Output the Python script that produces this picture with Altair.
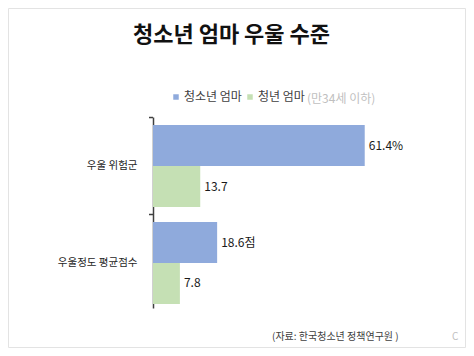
import altair as alt
import pandas as pd

categories = ["우울 위험군", "우울정도 평균점수"]
series_names = ["청소년 엄마", "청년 엄마"]
teen_values = [61.4, 18.6]
young_values = [13.7, 7.8]
teen_labels = ["61.4%", "18.6점"]
young_labels = ["13.7", "7.8"]

title_text = "청소년 엄마 우울 수준"
legend_suffix = "(만34세 이하)"
source_text = "(자료: 한국청소년 정책연구원 )"
corner_text = "C"

rows = []
for i, c in enumerate(categories):
    rows.append({"group": c, "series": series_names[0], "value": teen_values[i], "label": teen_labels[i]})
    rows.append({"group": c, "series": series_names[1], "value": young_values[i], "label": young_labels[i]})
df = pd.DataFrame(rows)
cat_df = pd.DataFrame({"group": categories})

FONT = "Noto Sans CJK KR"
BLUE = "#8FAADC"
GREEN = "#C5E0B4"

yenc = alt.Y(
    "group:N",
    sort=categories,
    scale=alt.Scale(paddingInner=0.1546, paddingOuter=0.062, align=0.667),
    axis=alt.Axis(
        title=None, ticks=False, labelPadding=16, labelFontSize=10.5,
        labelColor="#262626", labelFont=FONT, domainColor="#404040",
        domainWidth=1.5, grid=False,
    ),
)
yoff = alt.YOffset("series:N", sort=series_names)
xenc = alt.X("value:Q", scale=alt.Scale(domain=[0, 87]), axis=None)

base = alt.Chart(df)

bars = base.mark_bar().encode(
    y=yenc,
    yOffset=yoff,
    x=xenc,
    color=alt.Color(
        "series:N",
        sort=series_names,
        scale=alt.Scale(domain=series_names, range=[BLUE, GREEN]),
        legend=alt.Legend(
            title=None, orient="none", legendX=17, legendY=-26,
            direction="horizontal", symbolType="square", symbolSize=30,
            symbolStrokeWidth=0, labelFontSize=12, labelFont=FONT,
            labelColor="#404040", labelOffset=2, columnPadding=2,
        ),
    ),
)

labels = base.mark_text(align="left", baseline="middle", dx=4, fontSize=12, font=FONT, color="#1a1a1a").encode(
    y=alt.Y("group:N", sort=categories),
    yOffset=yoff,
    x=xenc,
    text="label:N",
)

ticks = alt.Chart(cat_df).mark_rule(color="#404040", strokeWidth=1.5, yOffset=-7.5).encode(
    y=alt.Y("group:N", sort=categories, bandPosition=0),
    x=alt.value(-4),
    x2=alt.value(0),
)

title = alt.Chart(cat_df.head(1)).mark_text(
    text=title_text, fontSize=22, fontWeight="bold", font=FONT, color="#111111",
    align="center", baseline="middle",
).encode(x=alt.value(78.5), y=alt.value(-82))

suffix = alt.Chart(cat_df.head(1)).mark_text(
    text=legend_suffix, fontSize=12, font=FONT, color="#BFBFBF",
    align="left", baseline="middle",
).encode(x=alt.value(154), y=alt.value(-18.5))

source = alt.Chart(cat_df.head(1)).mark_text(
    text=source_text, fontSize=10, font=FONT, color="#404040",
    align="left", baseline="middle",
).encode(x=alt.value(119), y=alt.value(220))

corner = alt.Chart(cat_df.head(1)).mark_text(
    text=corner_text, fontSize=10, font=FONT, color="#BFBFBF",
    align="left", baseline="middle",
).encode(x=alt.value(299), y=alt.value(220))

frame = alt.Chart(cat_df.head(1)).mark_rect(
    fill=None, fillOpacity=0, stroke="#E3E3E3", strokeWidth=1,
).encode(x=alt.value(-144.5), x2=alt.value(312.5), y=alt.value(-108.5), y2=alt.value(230.5))

chart = alt.layer(frame, bars, labels, ticks, title, suffix, source, corner).properties(
    width=300,
    height=191,
    autosize=alt.AutoSizeParams(type="none"),
    padding={"left": 145, "top": 109, "right": 13, "bottom": 40},
).configure_view(stroke=None)

chart.save("out.html", embed_options={"renderer": "svg", "actions": False})
